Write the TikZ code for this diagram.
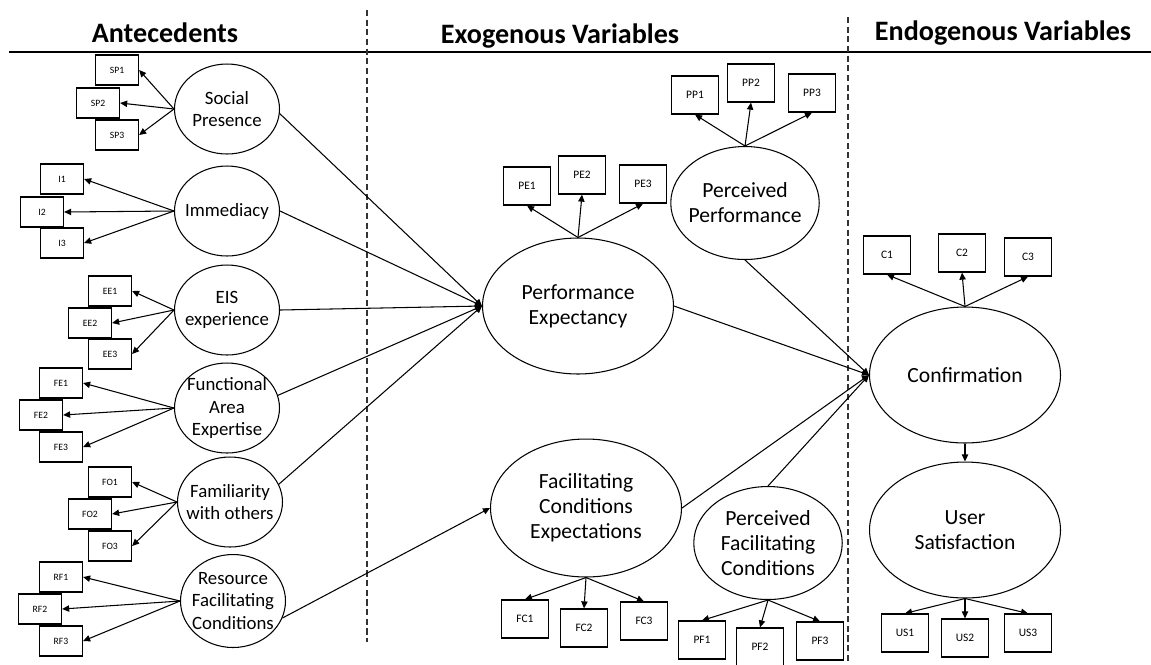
\documentclass[tikz,border=0pt]{standalone}
\usepackage{fontspec}
\setmainfont{Carlito}
\usetikzlibrary{shapes.geometric,arrows.meta}
\tikzset{
  latent/.style={draw,ellipse,line width=0.6pt,inner sep=-6pt,align=center,
    font=\fontsize{12.3}{14.3}\selectfont,minimum width=3.82cm,minimum height=2.72cm},
  antec/.style={latent,font=\fontsize{10.7}{12.8}\selectfont,minimum width=2.1cm,minimum height=1.8cm},
  smalllat/.style={latent,minimum width=2.97cm,minimum height=2.26cm},
  item/.style={draw,rectangle,line width=0.7pt,inner sep=0pt,minimum width=0.94cm,
    minimum height=0.76cm,font=\fontsize{6.5}{7}\selectfont},
  itemL/.style={item,minimum width=0.86cm,minimum height=0.6cm,font=\fontsize{5.5}{6}\selectfont},
  arr/.style={line width=0.6pt,-{Triangle[length=4pt,width=3.6pt]}},
  heading/.style={anchor=base,font=\fontsize{16}{18}\selectfont\bfseries}
}
\begin{document}
\begin{tikzpicture}[x=0.02cm,y=-0.02cm]
            \useasboundingbox (0,0) rectangle (1151,664);
            \node[heading] (tant) at (165,42) {Antecedents};
            \node[heading] (texo) at (560,43) {Exogenous Variables};
            \node[heading] (tendo) at (1003,40) {Endogenous Variables};
            \draw[line width=0.7pt] (9,52) -- (1151,52);
            \draw[black!80,line width=0.7pt,dash pattern=on 3.5pt off 2pt] (367,10) -- (367,642);
            \draw[black!80,line width=0.7pt,dash pattern=on 3.5pt off 2pt] (848,17) -- (848,664);
            % antecedents
            \begin{scope}
            \node[antec] (sp) at (227,109) {Social\\Presence};
            \node[antec] (imm) at (227,211) {Immediacy};
            \node[antec] (eis) at (227,310) {EIS\\experience};
            \node[antec] (fae) at (227,408) {Functional\\Area\\Expertise};
            \node[antec] (fam) at (230,502) {Familiarity\\with others};
            \node[antec,minimum height=1.86cm] (rfc) at (233,601) {Resource\\Facilitating\\Conditions};
            \node[itemL] (sp1) at (117,70) {SP1};
            \node[itemL] (sp2) at (98,103) {SP2};
            \node[itemL] (sp3) at (117,135) {SP3};
            \node[itemL] (i1) at (62,179) {I1};
            \node[itemL] (i2) at (42,212) {I2};
            \node[itemL] (i3) at (62,243) {I3};
            \node[itemL] (ee1) at (110,291) {EE1};
            \node[itemL] (ee2) at (90,323) {EE2};
            \node[itemL] (ee3) at (110,354) {EE3};
            \node[itemL] (fe1) at (61,383) {FE1};
            \node[itemL] (fe2) at (41,415) {FE2};
            \node[itemL] (fe3) at (61,447) {FE3};
            \node[itemL] (fo1) at (110,482) {FO1};
            \node[itemL] (fo2) at (90,514) {FO2};
            \node[itemL] (fo3) at (110,546) {FO3};
            \node[itemL] (rf1) at (61,577) {RF1};
            \node[itemL] (rf2) at (40,609) {RF2};
            \node[itemL] (rf3) at (61,641) {RF3};
            \draw[arr] (sp.west) -- (sp1.east);
            \draw[arr] (sp.west) -- (sp2.east);
            \draw[arr] (sp.west) -- (sp3.east);
            \draw[arr] (imm.west) -- (i1.east);
            \draw[arr] (imm.west) -- (i2.east);
            \draw[arr] (imm.west) -- (i3.east);
            \draw[arr] (eis.west) -- (ee1.east);
            \draw[arr] (eis.west) -- (ee2.east);
            \draw[arr] (eis.west) -- (ee3.east);
            \draw[arr] (fae.west) -- (fe1.east);
            \draw[arr] (fae.west) -- (fe2.east);
            \draw[arr] (fae.west) -- (fe3.east);
            \draw[arr] (fam.west) -- (fo1.east);
            \draw[arr] (fam.west) -- (fo2.east);
            \draw[arr] (fam.west) -- (fo3.east);
            \draw[arr] (rfc.west) -- (rf1.east);
            \draw[arr] (rfc.west) -- (rf2.east);
            \draw[arr] (rfc.west) -- (rf3.east);
            \end{scope}
            % exogenous
            \begin{scope}
            \node[latent] (pe) at (578,306) {Performance\\Expectancy};
            \node[smalllat] (pp) at (745,203) {Perceived\\Performance};
            \node[latent,minimum height=2.76cm] (fce) at (586,508) {Facilitating\\Conditions\\Expectations};
            \node[smalllat] (pfc) at (768,543) {Perceived\\Facilitating\\Conditions};
            \node[item] (pe1) at (527,186) {PE1};
            \node[item] (pe2) at (582,175) {PE2};
            \node[item] (pe3) at (643,184) {PE3};
            \node[item] (pp1) at (695,95) {PP1};
            \node[item] (pp2) at (751,83) {PP2};
            \node[item] (pp3) at (812,93) {PP3};
            \node[item] (fc1) at (525,619) {FC1};
            \node[item] (fc2) at (584,628) {FC2};
            \node[item] (fc3) at (644,621) {FC3};
            \node[item] (pf1) at (702,640) {PF1};
            \node[item] (pf2) at (760,647) {PF2};
            \node[item] (pf3) at (820,641) {PF3};
            \draw[arr] (pe.north) -- (pe1.south);
            \draw[arr] (pe.north) -- (pe2.south);
            \draw[arr] (pe.north) -- (pe3.south);
            \draw[arr] (pp.north) -- (pp1.south);
            \draw[arr] (pp.north) -- (pp2.south);
            \draw[arr] (pp.north) -- (pp3.south);
            \draw[arr] (fce.south) -- (fc1.north);
            \draw[arr] (fce.south) -- (fc2.north);
            \draw[arr] (fce.south) -- (fc3.north);
            \draw[arr] (pfc.south) -- (pf1.north);
            \draw[arr] (pfc.south) -- (pf2.north);
            \draw[arr] (pfc.south) -- (pf3.north);
            \end{scope}
            % endogenous
            \begin{scope}
            \node[latent] (conf) at (965,375) {Confirmation};
            \node[latent] (us) at (965,530) {User\\Satisfaction};
            \node[item] (c1) at (887,255) {C1};
            \node[item] (c2) at (962,253) {C2};
            \node[item] (c3) at (1028,257) {C3};
            \node[item] (us1) at (905,633) {US1};
            \node[item] (us2) at (965,638) {US2};
            \node[item] (us3) at (1028,633) {US3};
            \draw[arr] (conf.north) -- (c1.south);
            \draw[arr] (conf.north) -- (c2.south);
            \draw[arr] (conf.north) -- (c3.south);
            \draw[arr] (us.south) -- (us1.north);
            \draw[arr] (us.south) -- (us2.north);
            \draw[arr] (us.south) -- (us3.north);
            \draw[arr] (conf.south) -- (us.north);
            \end{scope}
            % paths
            \draw[arr] (sp.-5) -- (pe.west);
            \draw[arr] (imm.east) -- (pe.west);
            \draw[arr] (eis.east) -- (pe.west);
            \draw[arr] (fae.14) -- (pe.west);
            \draw[arr] (fam.20) -- (pe.west);
            \draw[arr] (rfc.-19) -- (fce.west);
            \draw[arr] (pe.east) -- (conf.west);
            \draw[arr] (pp.south) -- (conf.west);
            \draw[arr] (fce.east) -- (conf.west);
            \draw[arr] (pfc.north) -- (conf.west);
        \end{tikzpicture}
\end{document}
